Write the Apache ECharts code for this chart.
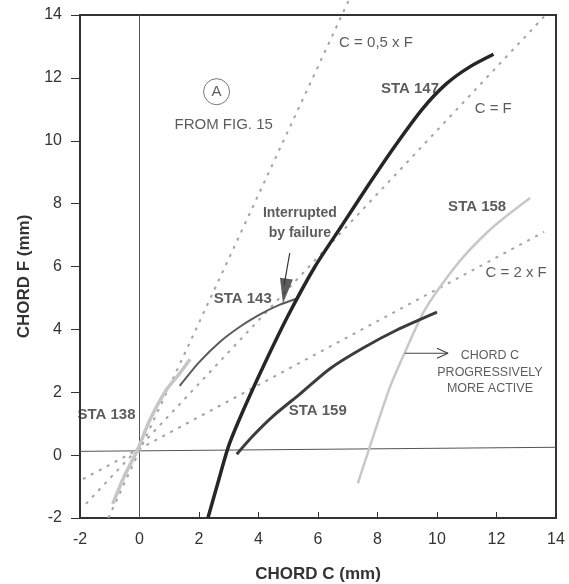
<!DOCTYPE html>
<html lang="en">
<head>
    <meta charset="UTF-8">
    <title>Chord F vs Chord C</title>
    <style>
        html, body { margin: 0; padding: 0; background: #fff; }
        #chart { width: 569px; height: 584px; }
    </style>
</head>
<body>
    <div id="chart"></div>
    <script src="https://cdn.jsdelivr.net/npm/echarts@6/dist/echarts.min.js"></script>
    <script>
        // station curves [chord C, chord F] in mm
        var sta138 = [[-0.9, -1.55], [-0.5, -0.65], [-0.07, 0.16], [0.34, 1.1], [0.9, 2.07], [1.35, 2.6], [1.7, 3.05]];
        var sta143 = [[1.35, 2.2], [2.0, 2.95], [2.7, 3.6], [3.4, 4.1], [4.1, 4.5], [4.7, 4.78], [5.35, 5.0]];
        var sta147 = [[2.3, -2], [2.6, -1], [3.0, 0.3], [3.5, 1.45], [4.2, 2.9], [5.0, 4.45], [5.9, 6.0], [6.8, 7.3],
            [7.7, 8.6], [8.6, 9.85], [9.5, 11.0], [10.3, 11.8], [11.1, 12.35], [11.9, 12.75]];
        var sta158 = [[7.34, -0.9], [7.74, 0.26], [8.42, 2.17], [9.0, 3.44], [9.53, 4.52], [10.1, 5.35], [10.88, 6.3],
            [11.78, 7.17], [12.46, 7.7], [13.13, 8.18]];
        var sta159 = [[3.27, 0.03], [3.8, 0.6], [4.5, 1.25], [5.4, 1.95], [6.4, 2.75], [7.5, 3.4], [8.65, 3.98], [10.0, 4.55]];

        // reference lines
        var refHalf = [[-1.05, -2], [7.05, 14.5]];     // C = 0,5 x F
        var refEqual = [[-1.8, -1.55], [13.6, 13.95]]; // C = F
        var refDouble = [[-1.9, -0.76], [13.6, 7.1]];  // C = 2 x F

        // thin zero lines
        var zeroV = [[0, -2], [0, 14]];
        var zeroH = [[-2, 0.12], [14, 0.25]];

        // labels
        var stationNames = ['STA 138', 'STA 143', 'STA 147', 'STA 158', 'STA 159'];
        var stationLabelAt = [[-1.11, 1.27], [3.47, 4.97], [9.09, 11.66], [11.35, 7.9], [5.99, 1.4]];
        var refNames = ['C = 0,5 x F', 'C = F', 'C = 2 x F'];
        var refLabelAt = [[7.95, 13.12], [11.89, 11.02], [12.66, 5.8]];
        var noteNames = ['FROM FIG. 15', 'Interrupted\nby failure', 'CHORD C\nPROGRESSIVELY\nMORE ACTIVE'];
        var noteAt = [[2.83, 10.51], [5.39, 7.39], [11.78, 2.64]];
        var circleNote = ['A'];
        var circleAt = [[2.59, 11.56]];

        // arrows
        var failShaft = [[5.05, 6.43], [4.86, 5.4]];
        var failHead = [[4.88, 5.22]];
        var activeShaft = [[8.92, 3.24], [10.37, 3.24]];
        var activeHead = [[10.0, 3.4], [10.37, 3.24], [10.0, 3.08]];

        var font = "'Liberation Sans', Arial, sans-serif";
        var ink = '#333';

        function curve(data, color, width, extra) {
            var s = {
                type: 'line', data: data, symbol: 'none', smooth: 0.25,
                lineStyle: { color: color, width: width }, z: 3
            };
            for (var k in extra) s[k] = extra[k];
            return s;
        }

        function ref(data) {
            return {
                type: 'line', data: data, symbol: 'none', clip: false,
                lineStyle: { color: '#a3a3a3', width: 2, type: [3, 6] }, z: 2
            };
        }

        function labels(names, at, size, weight, lh) {
            return {
                type: 'scatter', symbolSize: 0, silent: true, z: 5,
                data: names.map(function (n, i) { return { value: at[i], name: n }; }),
                label: {
                    show: true, position: 'inside', formatter: '{b}', color: ink,
                    fontFamily: font, fontSize: size, fontWeight: weight, lineHeight: lh, align: 'center'
                }
            };
        }

        var chart = echarts.init(document.getElementById('chart'));
        chart.setOption({
            animation: false,
            backgroundColor: '#fff',
            grid: {
                left: 80, right: 13, top: 15, bottom: 66, outerBoundsMode: 'none',
                show: true, borderColor: ink, borderWidth: 2
            },
            xAxis: {
                type: 'value', min: -2, max: 14, interval: 2,
                name: 'CHORD C (mm)', nameLocation: 'middle', nameGap: 48,
                nameTextStyle: { fontFamily: font, fontSize: 17, fontWeight: 'bold', color: ink },
                axisLine: { onZero: false, lineStyle: { color: ink, width: 2 } },
                axisTick: { inside: true, length: 6, lineStyle: { color: ink } },
                axisLabel: { margin: 14, fontFamily: font, fontSize: 16, color: ink },
                splitLine: { show: false }
            },
            yAxis: {
                type: 'value', min: -2, max: 14, interval: 2,
                name: 'CHORD F (mm)', nameLocation: 'middle', nameGap: 44,
                nameTextStyle: { fontFamily: font, fontSize: 17, fontWeight: 'bold', color: ink, padding: [0, 20, 0, 0] },
                axisLine: { onZero: false, lineStyle: { color: ink, width: 2 } },
                axisTick: { length: 9, lineStyle: { color: ink } },
                axisLabel: { margin: 18, fontFamily: font, fontSize: 16, color: ink },
                splitLine: { show: false }
            },
            series: [
                curve(zeroV, '#555', 1, { smooth: false, z: 1 }),
                curve(zeroH, '#555', 1, { smooth: false, z: 1 }),
                ref(refHalf),
                ref(refEqual),
                ref(refDouble),
                curve(sta138, '#c6c6c6', 3.5),
                curve(sta158, '#c8c8c8', 2.5),
                curve(sta143, '#5a5a5a', 2),
                curve(sta159, '#3c3c3c', 3),
                curve(sta147, '#262626', 3.5),
                curve(failShaft, '#333', 1.2, { smooth: false }),
                {
                    type: 'scatter', data: failHead, symbol: 'triangle', symbolSize: [13, 25], symbolRotate: 172,
                    itemStyle: { color: '#333' }, z: 4, silent: true
                },
                curve(activeShaft, '#444', 1.2, { smooth: false }),
                curve(activeHead, '#444', 1.2, { smooth: false }),
                labels(stationNames, stationLabelAt, 15, 'bold', 18),
                labels(refNames, refLabelAt, 15, 'normal', 18),
                labels(noteNames.slice(0, 1), noteAt.slice(0, 1), 15, 'normal', 18),
                labels(noteNames.slice(1, 2), noteAt.slice(1, 2), 14, 'bold', 20),
                labels(noteNames.slice(2), noteAt.slice(2), 12.5, 'normal', 16.5),
                {
                    type: 'scatter', symbol: 'circle', symbolSize: 26, silent: true, z: 5,
                    data: circleNote.map(function (n, i) { return { value: circleAt[i], name: n }; }),
                    itemStyle: { color: 'rgba(255,255,255,0)', borderColor: '#555', borderWidth: 1 },
                    label: { show: true, position: 'inside', formatter: '{b}', color: ink, fontFamily: font, fontSize: 15 }
                }
            ]
        });
    </script>
</body>
</html>
